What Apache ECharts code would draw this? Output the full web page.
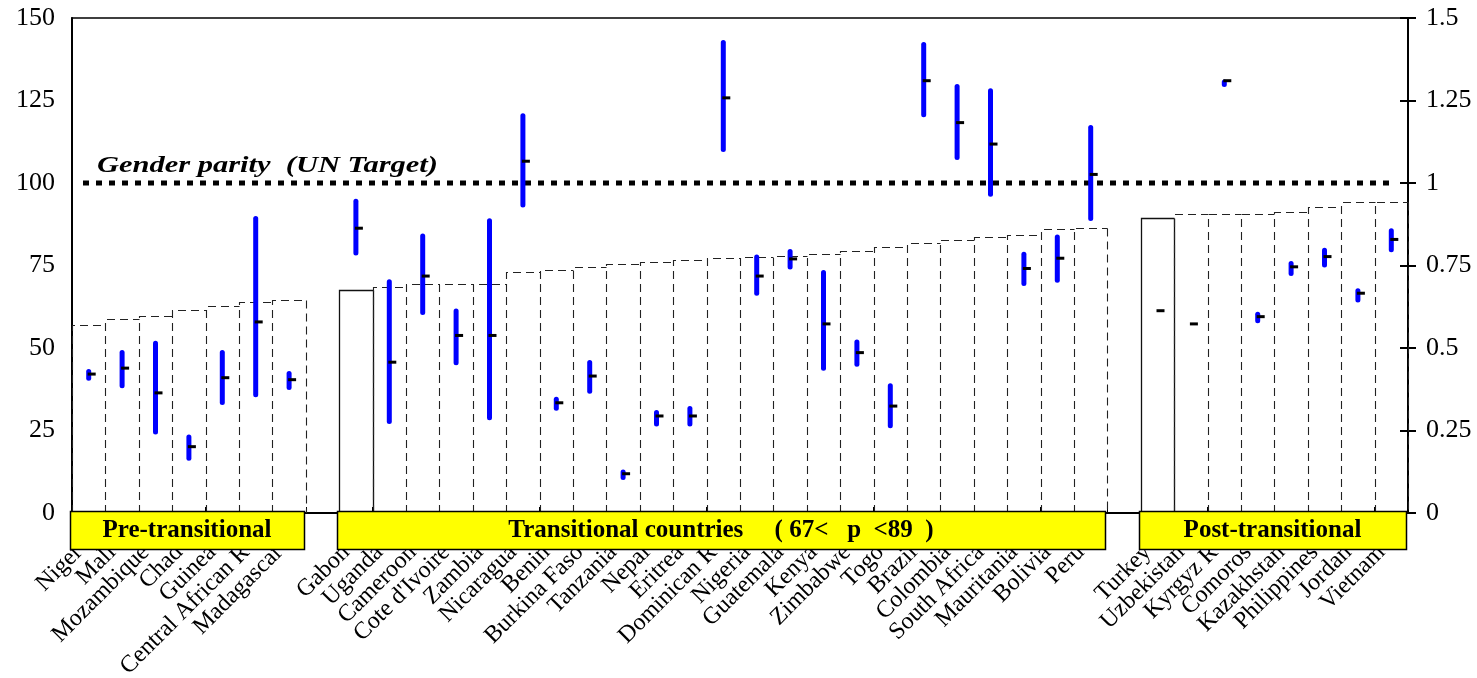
<!DOCTYPE html>
<html>
<head>
<meta charset="utf-8">
<script src="https://cdn.jsdelivr.net/npm/echarts@6/dist/echarts.min.js"></script>
<style>
  html, body { margin: 0; padding: 0; background: #ffffff; }
  #chart { width: 1477px; height: 678px; }
</style>
</head>
<body>
<div id="chart"></div>
<script>
// Countries in three demographic groups; empty names are spacer slots between groups.
const countries = [
  'Niger', 'Mali', 'Mozambique', 'Chad', 'Guinea', 'Central African R', 'Madagascar', '',
  'Gabon', 'Uganda', 'Cameroon', "Cote d'Ivoire", 'Zambia', 'Nicaragua', 'Benin', 'Burkina Faso',
  'Tanzania', 'Nepal', 'Eritrea', 'Dominican R', 'Nigeria', 'Guatemala', 'Kenya', 'Zimbabwe',
  'Togo', 'Brazil', 'Colombia', 'South Africa', 'Mauritania', 'Bolivia', 'Peru', '',
  'Turkey', 'Uzbekistan', 'Kyrgyz R', 'Comoros', 'Kazakhstan', 'Philippines', 'Jordan', 'Vietnam'
];

// p (left scale) for each country
const pValues = [
  57.0, 58.7, 59.8, 61.5, 62.8, 63.8, 64.4, null,
  67.5, 68.6, 69.3, 69.3, 69.3, 73.1, 73.6, 74.4,
  75.5, 76.0, 76.6, 77.2, 77.6, 78.0, 78.4, 79.4,
  80.5, 81.9, 82.6, 83.6, 84.3, 86.0, 86.5, null,
  89.5, 90.6, 90.6, 90.6, 91.2, 92.8, 94.2, 94.2
];

// Gender ratio range (right scale): low, high and central estimate
const ratioLow = [
  0.401, 0.378, 0.238, 0.158, 0.327, 0.351, 0.373, null,
  0.780, 0.270, 0.600, 0.448, 0.281, 0.926, 0.310, 0.361,
  0.100, 0.262, 0.262, 1.094, 0.658, 0.738, 0.431, 0.443,
  0.257, 1.199, 1.070, 0.958, 0.688, 0.698, 0.885, null,
  null, null, 1.291, 0.575, 0.718, 0.744, 0.638, 0.790
];
const ratioHigh = [
  0.436, 0.494, 0.522, 0.238, 0.494, 0.900, 0.430, null,
  0.952, 0.708, 0.847, 0.620, 0.893, 1.211, 0.352, 0.464,
  0.132, 0.312, 0.324, 1.433, 0.783, 0.800, 0.736, 0.526,
  0.393, 1.427, 1.300, 1.287, 0.792, 0.844, 1.176, null,
  null, null, 1.314, 0.610, 0.764, 0.804, 0.681, 0.863
];
const ratioMid = [
  0.421, 0.439, 0.364, 0.201, 0.410, 0.579, 0.404, null,
  0.863, 0.457, 0.718, 0.538, 0.538, 1.066, 0.334, 0.415,
  0.119, 0.294, 0.294, 1.258, 0.718, 0.770, 0.573, 0.486,
  0.324, 1.310, 1.183, 1.118, 0.741, 0.772, 1.026, null,
  0.613, 0.573, 1.310, 0.595, 0.746, 0.777, 0.666, 0.829
];

// Left and right axis ticks
const leftTicks = { min: 0, max: 150, interval: 25 };
const rightTicks = { min: 0, max: 1.5, interval: 0.25 };
const parityValue = 1;
const parityLabel = 'Gender parity  (UN Target)';

// Group banners: first and last slot index of each group
const groupNames = ['Pre-transitional', 'Transitional countries     ( 67<   p  <89  )', 'Post-transitional'];
const groupStart = [0, 8, 32];
const groupEnd = [6, 30, 39];

// Bars drawn with a solid outline instead of dashed
const solidOutline = ['Gabon', 'Turkey'];

const SERIF = '"Liberation Serif", "Times New Roman", serif';

const barData = [];
pValues.forEach((v, i) => { if (v != null) barData.push([i, v]); });
const rangeData = [];
ratioLow.forEach((v, i) => { if (v != null) rangeData.push([i, v, ratioHigh[i]]); });
const midData = [];
ratioMid.forEach((v, i) => { if (v != null) midData.push([i, v]); });
const groupData = groupNames.map((n, k) => [groupStart[k], groupEnd[k], k]);

function px(x) { return Math.round(x) + 0.5; }

function renderBar(params, api) {
  const i = api.value(0);
  const v = api.value(1);
  const top = api.coord([i, v]);
  const base = api.coord([i, 0]);
  const w = api.size([1, 0])[0];
  const xl = px(top[0] - w / 2), xr = px(top[0] + w / 2);
  const yt = px(top[1]), yb = base[1];
  const solid = solidOutline.indexOf(countries[i]) >= 0;
  const nextEmpty = i + 1 >= countries.length || pValues[i + 1] == null;
  const style = { stroke: solid ? '#111' : '#222', lineWidth: solid ? 1.3 : 1.1, fill: null,
                  lineDash: solid ? null : [8, 5] };
  const children = [
    { type: 'polyline', shape: { points: [[xl, yb], [xl, yt], [xr, yt]] }, style: style }
  ];
  if (nextEmpty || solid) {
    children.push({ type: 'line', shape: { x1: xr, y1: yt, x2: xr, y2: yb }, style: style });
  }
  return { type: 'group', children: children };
}

function renderRange(params, api) {
  const i = api.value(0);
  const lo = api.coord([i, api.value(1)]);
  const hi = api.coord([i, api.value(2)]);
  const lw = 5;
  let y1 = hi[1] + lw / 2, y2 = lo[1] - lw / 2;
  if (y2 < y1) { const m = (y1 + y2) / 2; y1 = m; y2 = m; }
  return {
    type: 'line',
    shape: { x1: lo[0], y1: y1, x2: lo[0], y2: y2 },
    style: { stroke: '#0000ff', lineWidth: lw, lineCap: 'round' }
  };
}

function renderMid(params, api) {
  const p = api.coord([api.value(0), api.value(1)]);
  return {
    type: 'line',
    shape: { x1: p[0] - 1, y1: p[1], x2: p[0] + 7, y2: p[1] },
    style: { stroke: '#000', lineWidth: 3 }
  };
}

function renderParity(params, api) {
  const cs = params.coordSys;
  const y = api.coord([0, api.value(1)])[1];
  return {
    type: 'group',
    children: [
      { type: 'line', shape: { x1: cs.x + 11, y1: y, x2: cs.x + cs.width - 18, y2: y },
        style: { stroke: '#000', lineWidth: 5, lineDash: [6, 7] } },
      { type: 'text', x: cs.x + 25, y: y - 5, scaleX: 1.27,
        style: { text: parityLabel, font: 'italic bold 24px ' + SERIF, fill: '#000',
                 textAlign: 'left', textVerticalAlign: 'bottom' } }
    ]
  };
}

function renderGroup(params, api) {
  const s = api.coord([api.value(0), 0]);
  const e = api.coord([api.value(1), 0]);
  const w = api.size([1, 0])[0];
  const x0 = Math.round(s[0] - w / 2 - 2), x1 = Math.round(e[0] + w / 2 - 2);
  const y0 = Math.round(s[1] - 2);
  const h = 38;
  return {
    type: 'group',
    children: [
      { type: 'rect', shape: { x: x0 + 0.5, y: y0 + 0.5, width: x1 - x0, height: h },
        style: { fill: '#ffff00', stroke: '#000', lineWidth: 1.5 } },
      { type: 'text', x: (x0 + x1) / 2, y: y0 + h / 2 + 1,
        style: { text: groupNames[api.value(2)], font: 'bold 25px ' + SERIF, fill: '#000',
                 textAlign: 'center', textVerticalAlign: 'middle' } }
    ]
  };
}

const chart = echarts.init(document.getElementById('chart'), null, { renderer: 'canvas' });

chart.setOption({
  backgroundColor: '#ffffff',
  animation: false,
  grid: {
    left: 72, right: 69, top: 18, bottom: 165,
    show: true, borderColor: '#000', borderWidth: 1.5, backgroundColor: 'transparent',
    outerBoundsMode: 'none'
  },
  xAxis: {
    type: 'category',
    data: countries,
    boundaryGap: true,
    axisLine: { show: true, lineStyle: { color: '#000', width: 2 } },
    axisTick: { show: true, inside: true, length: 6, lineStyle: { color: '#000', width: 1 } },
    axisLabel: {
      interval: 0, rotate: 45, margin: 26, padding: [0, 14, 0, 0],
      fontFamily: SERIF, fontSize: 24, color: '#000'
    },
    splitLine: { show: false }
  },
  yAxis: [
    {
      type: 'value', position: 'left',
      min: leftTicks.min, max: leftTicks.max, interval: leftTicks.interval,
      axisLine: { show: true, lineStyle: { color: '#000', width: 2 } },
      axisTick: { show: false },
      axisLabel: { fontFamily: SERIF, fontSize: 26, color: '#000', margin: 17 },
      splitLine: { show: false }
    },
    {
      type: 'value', position: 'right',
      min: rightTicks.min, max: rightTicks.max, interval: rightTicks.interval,
      axisLine: { show: true, lineStyle: { color: '#000', width: 2 } },
      axisTick: { show: true, inside: false, length: 8, lineStyle: { color: '#000', width: 2 } },
      axisLabel: { fontFamily: SERIF, fontSize: 26, color: '#000', margin: 18 },
      splitLine: { show: false }
    },
    {
      type: 'value', position: 'right',
      min: rightTicks.min, max: rightTicks.max, interval: rightTicks.interval,
      axisLine: { show: false },
      axisTick: { show: true, inside: true, length: 8, lineStyle: { color: '#000', width: 2 } },
      axisLabel: { show: false },
      splitLine: { show: false }
    }
  ],
  series: [
    { type: 'custom', name: 'p', xAxisIndex: 0, yAxisIndex: 0, data: barData,
      renderItem: renderBar, clip: false, z: 2, silent: true },
    { type: 'custom', name: 'parity', xAxisIndex: 0, yAxisIndex: 1, data: [[0, parityValue]],
      renderItem: renderParity, clip: false, z: 3, silent: true },
    { type: 'custom', name: 'range', xAxisIndex: 0, yAxisIndex: 1, data: rangeData,
      renderItem: renderRange, clip: false, z: 4, silent: true },
    { type: 'custom', name: 'estimate', xAxisIndex: 0, yAxisIndex: 1, data: midData,
      renderItem: renderMid, clip: false, z: 5, silent: true },
    { type: 'custom', name: 'groups', xAxisIndex: 0, yAxisIndex: 0, data: groupData,
      renderItem: renderGroup, clip: false, z: 20, silent: true }
  ]
});
</script>
</body>
</html>
